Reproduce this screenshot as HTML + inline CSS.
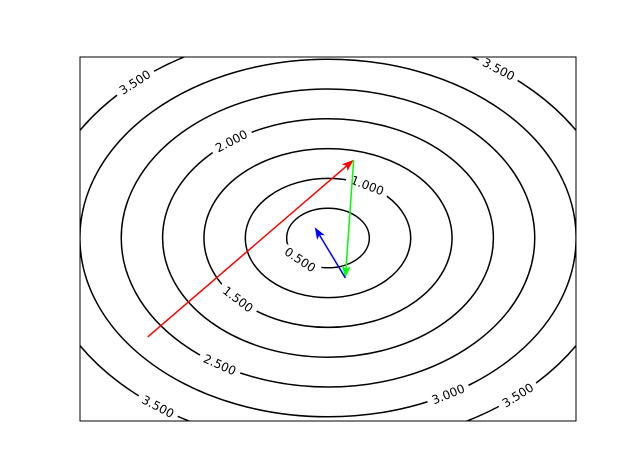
<!DOCTYPE html>
<html><head><meta charset="utf-8"><style>body{margin:0;background:#fff}svg{display:block;font-family:"DejaVu Sans","Liberation Sans",sans-serif}</style></head>
<body>
<svg id="chart" width="640" height="473" viewBox="0 0 640 473">
<defs><clipPath id="clip"><rect x="80" y="57" width="496" height="364"/></clipPath></defs>
<rect x="0" y="0" width="640" height="473" fill="#fff"/>
<g id="contours" clip-path="url(#clip)"></g>
<g id="labels" clip-path="url(#clip)"></g>
<g id="arrows"></g>
<rect x="80" y="57" width="496" height="364" fill="none" stroke="#000" stroke-width="1"/>
</svg>
<script>
const levels = [0.5, 1.0, 1.5, 2.0, 2.5, 3.0, 3.5];
const labelLevels = [0.5, 1.0, 1.5, 2.0, 2.5, 3.0, 3.5, 3.5, 3.5, 3.5];
const labelAngles = [132.6, -61.6, 136.6, -125.7, 121.6, 61, -131.8, -53.9, 126, 49];
const arrowX0 = [-2.18, 0.31, 0.21];
const arrowY0 = [-1.66, 1.31, -0.67];
const arrowX1 = [0.31, 0.21, -0.16];
const arrowY1 = [1.31, -0.67, 0.18];
const arrowColors = ['#ff0000', '#00ff00', '#0000ff'];

const cx = 328, cy = 238, kx = 82.7, ky = 59.6;
const X = v => cx + kx * v;
const Y = v => cy - ky * v;
const NS = 'http://www.w3.org/2000/svg';
const cont = document.getElementById('contours');
const lab = document.getElementById('labels');
const arr = document.getElementById('arrows');

levels.forEach((l, i) => {
  const e = document.createElementNS(NS, 'ellipse');
  e.setAttribute('cx', X(0)); e.setAttribute('cy', Y(0));
  e.setAttribute('rx', kx * l); e.setAttribute('ry', ky * l);
  e.setAttribute('fill', 'none'); e.setAttribute('stroke', '#000'); e.setAttribute('stroke-width', '1.5');
  
  
  cont.appendChild(e);
});

labelLevels.forEach((l, i) => {
  const t = labelAngles[i] * Math.PI / 180;
  const rx = kx * l, ry = ky * l;
  const px = cx + rx * Math.cos(t), py = cy + ry * Math.sin(t);
  let ang = Math.atan2(ry * Math.cos(t), -rx * Math.sin(t)) * 180 / Math.PI;
  if (ang > 90) ang -= 180; if (ang <= -90) ang += 180;
  const g = document.createElementNS(NS, 'g');
  g.setAttribute('transform', `translate(${px},${py}) rotate(${ang})`);
  
  
  const r = document.createElementNS(NS, 'rect');
  r.setAttribute('x', -22); r.setAttribute('y', -6); r.setAttribute('width', 44); r.setAttribute('height', 12);
  r.setAttribute('fill', '#fff');
  g.appendChild(r);
  const tx = document.createElementNS(NS, 'text');
  tx.setAttribute('x', 0); tx.setAttribute('y', 4); tx.setAttribute('text-anchor', 'middle');
  tx.setAttribute('font-size', '12');
  tx.textContent = l.toFixed(3);
  g.appendChild(tx);
  lab.appendChild(g);
});

arrowX0.forEach((_, i) => {
  const x0 = X(arrowX0[i]), y0 = Y(arrowY0[i]), x1 = X(arrowX1[i]), y1 = Y(arrowY1[i]);
  const a = Math.atan2(y1 - y0, x1 - x0);
  const L = 12, W = 4.5;
  const bx = x1 - L * Math.cos(a), by = y1 - L * Math.sin(a);
  const g = document.createElementNS(NS, 'g');
  
  
  const ln = document.createElementNS(NS, 'line');
  ln.setAttribute('x1', x0); ln.setAttribute('y1', y0); ln.setAttribute('x2', bx + 3 * Math.cos(a)); ln.setAttribute('y2', by + 3 * Math.sin(a));
  ln.setAttribute('stroke', arrowColors[i]); ln.setAttribute('stroke-width', '1.5');
  g.appendChild(ln);
  const p = document.createElementNS(NS, 'polygon');
  const nx = -Math.sin(a), ny = Math.cos(a);
  p.setAttribute('points', `${x1},${y1} ${bx + W * nx},${by + W * ny} ${bx + 3 * Math.cos(a)},${by + 3 * Math.sin(a)} ${bx - W * nx},${by - W * ny}`);
  p.setAttribute('fill', arrowColors[i]);
  g.appendChild(p);
  arr.appendChild(g);
});
</script>
</body></html>
